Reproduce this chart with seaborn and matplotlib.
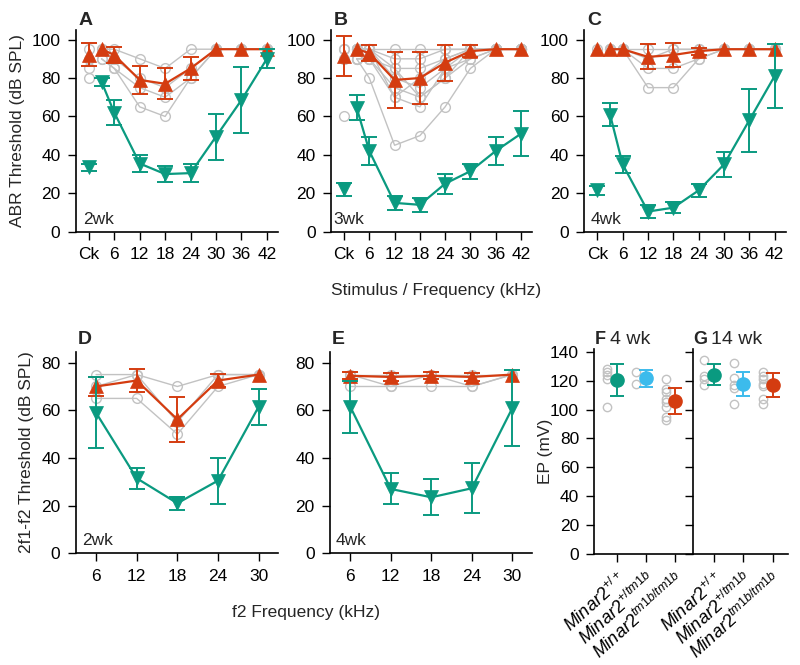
import numpy as np
import pandas as pd
import matplotlib
matplotlib.use('Agg')
import matplotlib.pyplot as plt
import seaborn as sns

sns.set_theme(style='ticks')
plt.rcParams['font.family'] = ['Liberation Sans', 'DejaVu Sans']
plt.rcParams['mathtext.fontset'] = 'custom'
plt.rcParams['mathtext.rm'] = 'Liberation Sans'
plt.rcParams['mathtext.it'] = 'Liberation Sans:italic'
plt.rcParams['mathtext.bf'] = 'Liberation Sans:bold'

TEAL = '#0a9a80'
RED = '#d43c10'
BLUE = '#3cbbec'
GRAY = '#c2c2c2'

# ---------------- ABR data (A-C) ----------------
abr_ticks = [0, 6, 12, 18, 24, 30, 36, 42]
abr_ticklabels = ['Ck', '6', '12', '18', '24', '30', '36', '42']
abr_freqs = [3, 6, 12, 18, 24, 30, 36, 42]

a_red_ck, a_red_ck_err = 92, 6
a_red = [95, 92, 79, 77, 85, 95, 95, 95]
a_red_err = [0, 4, 7.5, 8, 6, 0, 0, 0]
a_teal_ck, a_teal_ck_err = 33.5, 2
a_teal = [78, 62, 35.5, 30, 30.5, 49.5, 68.5, 90]
a_teal_err = [2, 6.5, 4.5, 4, 4.5, 12, 17, 5]
a_gray_ck = [95, 90, 85, 80]
a_gray = [[95, 95, 90, 85, 95, 95, 95, 95],
          [95, 90, 80, 75, 85, 95, 95, 95],
          [90, 85, 75, 70, 80, 95, 95, 95],
          [90, 85, 65, 60, 80, 95, 95, 95]]

b_red_ck, b_red_ck_err = 91.5, 10.3
b_red = [95, 93, 79, 80, 88, 94, 95, 95]
b_red_err = [0, 4.2, 14.5, 13.3, 9.3, 3, 0, 0]
b_teal_ck, b_teal_ck_err = 22, 3.3
b_teal = [64.5, 42, 15, 14, 25, 31.5, 42, 51]
b_teal_err = [6.5, 7.5, 3.5, 3.8, 5.2, 3.9, 7.1, 11.8]
b_gray_ck = [95, 95, 90, 90, 60]
b_gray = [[95, 95, 95, 95, 95, 95, 95, 95],
          [95, 95, 90, 90, 95, 95, 95, 95],
          [90, 90, 85, 85, 90, 95, 95, 95],
          [95, 95, 80, 75, 85, 90, 95, 95],
          [95, 90, 75, 70, 80, 95, 95, 95],
          [95, 95, 70, 65, 85, 95, 95, 95],
          [90, 80, 45, 50, 65, 85, 95, 95],
          [90, 90, 70, 80, 90, 95, 95, 95],
          [95, 95, 85, 70, 80, 90, 95, 95]]

c_red_ck, c_red_ck_err = 95, 0
c_red = [95, 95, 91, 92, 94, 95, 95, 95]
c_red_err = [0, 0, 6.5, 6.3, 1.8, 0, 0, 0]
c_teal_ck, c_teal_ck_err = 21.5, 2.2
c_teal = [61, 35, 10.5, 12.5, 21.5, 35, 58, 81]
c_teal_err = [6.2, 4.2, 3.3, 3, 3.3, 6.4, 16.3, 16.8]
c_gray_ck = [95]
c_gray = [[95, 95, 95, 95, 95, 95, 95, 95],
          [95, 95, 85, 85, 90, 95, 95, 95],
          [95, 95, 75, 75, 90, 95, 95, 95],
          [95, 95, 90, 95, 95, 95, 95, 95]]

# ---------------- DPOAE data (D-E) ----------------
dp_freqs = [6, 12, 18, 24, 30]
d_red = [70, 72.5, 56.2, 72.5, 75]
d_red_err = [4, 4.8, 9.3, 2.9, 0]
d_teal = [59, 31.5, 21, 30.5, 61.5]
d_teal_err = [15, 4.4, 2.8, 9.7, 7.6]
d_gray = [[75, 75, 70, 75, 75],
          [65, 65, 50, 70, 75],
          [70, 75, 55, 75, 75]]

e_red = [74.5, 74, 74.5, 74, 75]
e_red_err = [1.5, 1.7, 1.5, 1.8, 0]
e_teal = [61.5, 27, 23.5, 27.3, 61]
e_teal_err = [11, 6.5, 7.5, 10.5, 16]
e_gray = [[75, 75, 75, 75, 75],
          [70, 70, 70, 70, 75],
          [75, 70, 75, 70, 75]]

# ---------------- EP data (F-G) ----------------
ep_labels = [r'$\mathit{Minar2}^{\mathit{+/+}}$',
             r'$\mathit{Minar2}^{\mathit{+/tm1b}}$',
             r'$\mathit{Minar2}^{\mathit{tm1b/tm1b}}$']
ep_colors = [TEAL, BLUE, RED]
f_means = [120.5, 121.5, 105.7]
f_err = [11, 5.8, 9]
f_dots = [[128, 126, 124, 121, 102],
          [126, 118],
          [121, 114, 112, 107, 105, 102, 95, 93]]
g_means = [124.2, 117.7, 117]
g_err = [7.2, 8.5, 8]
g_dots = [[134, 123, 121, 117],
          [132, 122, 117, 115, 104],
          [126, 123, 121, 118, 116, 107, 104]]

W, H = 800, 665
fig = plt.figure(figsize=(8, 6.65), dpi=100)


def add_ax(left, right, top, bottom):
    return fig.add_axes([left / W, 1 - bottom / H, (right - left) / W, (bottom - top) / H])


TICK_FS = 12.5
LABEL_FS = 12.5


def style(ax):
    for s in ['top', 'right']:
        ax.spines[s].set_visible(False)
    for s in ['left', 'bottom']:
        ax.spines[s].set_linewidth(1.2)
        ax.spines[s].set_color('black')
    ax.tick_params(direction='out', length=6, width=1, labelsize=TICK_FS, colors='black', pad=5)
    ax.grid(False)


def errs(ax, x, y, e, color, z):
    x = np.asarray(x); y = np.asarray(y); e = np.asarray(e)
    m = e > 0
    if m.any():
        ax.errorbar(x[m], y[m], yerr=e[m], fmt='none', ecolor=color, elinewidth=1.4,
                    capsize=6, capthick=1.4, zorder=z)


def main_series(ax, x, y, e, color, marker, z):
    sns.lineplot(x=x, y=y, color=color, marker=marker, ms=10, mec=color, mew=0.5,
                 lw=1.6, ax=ax, zorder=z)
    errs(ax, x, y, e, color, z)


def gray_traces(ax, x, traces):
    for tr in traces:
        sns.lineplot(x=x, y=tr, color=GRAY, marker='o', ms=7, mfc='none', mec=GRAY,
                     mew=1.0, lw=1.0, ax=ax, zorder=1)


abr_panels = [
    ('A', '2wk', 75.7, 278.3, a_red_ck, a_red_ck_err, a_red, a_red_err, a_teal_ck, a_teal_ck_err,
     a_teal, a_teal_err, a_gray_ck, a_gray, 0.035),
    ('B', '3wk', 331, 532.3, b_red_ck, b_red_ck_err, b_red, b_red_err, b_teal_ck, b_teal_ck_err,
     b_teal, b_teal_err, b_gray_ck, b_gray, 0.014),
    ('C', '4wk', 584.3, 786, c_red_ck, c_red_ck_err, c_red, c_red_err, c_teal_ck, c_teal_ck_err,
     c_teal, c_teal_err, c_gray_ck, c_gray, 0.03),
]

for (letter, age, l, r, rck, rcke, rv, re, tck, tcke, tv, te, gck, gtr, tx) in abr_panels:
    ax = add_ax(l, r, 30, 231.7)
    style(ax)
    gray_traces(ax, abr_freqs, gtr)
    ax.plot([0] * len(gck), gck, 'o', ms=7, mfc='none', mec=GRAY, mew=1.0, ls='none', zorder=1)
    main_series(ax, abr_freqs, rv, re, RED, '^', 3)
    ax.plot([0], [rck], '^', ms=10, color=RED, mec=RED, mew=0.5, zorder=3)
    errs(ax, [0], [rck], [rcke], RED, 3)
    main_series(ax, abr_freqs, tv, te, TEAL, 'v', 4)
    ax.plot([0], [tck], 'v', ms=10, color=TEAL, mec=TEAL, mew=0.5, zorder=4)
    errs(ax, [0], [tck], [tcke], TEAL, 4)
    ax.set_xlim(-3.1, 44.7)
    ax.set_ylim(0, 105)
    ax.set_xticks(abr_ticks)
    ax.set_xticklabels(abr_ticklabels)
    ax.set_yticks([0, 20, 40, 60, 80, 100])
    ax.set_xlabel('')
    ax.set_ylabel('')
    ax.text(tx, 0.04, age, transform=ax.transAxes, fontsize=TICK_FS, va='baseline', ha='left')
    fig.text((l + 2.5) / W, 1 - 25 / H, letter, fontsize=14, fontweight='bold', va='baseline', ha='left')
    if letter == 'A':
        ax.set_ylabel('ABR Threshold (dB SPL)', fontsize=LABEL_FS)
        ax.yaxis.set_label_coords(-0.25, 0.5)

fig.text(436 / W, 1 - 290 / H, 'Stimulus / Frequency (kHz)', fontsize=LABEL_FS, ha='center', va='center')

dp_panels = [
    ('D', '2wk', 75.7, 278.3, d_red, d_red_err, d_teal, d_teal_err, d_gray),
    ('E', '4wk', 330, 532, e_red, e_red_err, e_teal, e_teal_err, e_gray),
]
for (letter, age, l, r, rv, re, tv, te, gtr) in dp_panels:
    ax = add_ax(l, r, 351.7, 553.3)
    style(ax)
    gray_traces(ax, dp_freqs, gtr)
    main_series(ax, dp_freqs, rv, re, RED, '^', 3)
    main_series(ax, dp_freqs, tv, te, TEAL, 'v', 4)
    ax.set_xlim(3, 32.9)
    ax.set_ylim(0, 84.6)
    ax.set_xticks(dp_freqs)
    ax.set_yticks([0, 20, 40, 60, 80])
    ax.set_xlabel('')
    ax.set_ylabel('')
    ax.text(0.03, 0.04, age, transform=ax.transAxes, fontsize=TICK_FS, va='baseline', ha='left')
    fig.text((l + 2) / W, 1 - 344 / H, letter, fontsize=14, fontweight='bold', va='baseline', ha='left')
    if letter == 'D':
        ax.set_ylabel('2f1-f2 Threshold (dB SPL)', fontsize=LABEL_FS)
        ax.yaxis.set_label_coords(-0.205, 0.5)

fig.text(306 / W, 1 - 613 / H, 'f2 Frequency (kHz)', fontsize=LABEL_FS, ha='center', va='center')

ep_panels = [
    ('F', '4 wk', 594.3, 692.7, (-0.76, 2.59), f_means, f_err, f_dots),
    ('G', '14 wk', 692.7, 788, (-0.73, 2.53), g_means, g_err, g_dots),
]
renderer = fig.canvas.get_renderer()
for (letter, age, l, r, xl, means, err, dots) in ep_panels:
    ax = add_ax(l, r, 349.3, 554)
    style(ax)
    for i, (m, e, d, c) in enumerate(zip(means, err, dots, ep_colors)):
        ax.plot([i - 0.33] * len(d), d, 'o', ms=6, mfc='none', mec=GRAY, mew=1.0, ls='none', zorder=1)
        ax.errorbar([i], [m], yerr=[e], fmt='o', ms=9.5, color=c, mec=c, ecolor=c,
                    elinewidth=1.4, capsize=5, capthick=1.4, zorder=3)
    ax.set_xlim(*xl)
    ax.set_ylim(0, 141.7)
    ax.set_yticks([0, 20, 40, 60, 80, 100, 120, 140])
    ax.set_xticks([0, 1, 2])
    ax.set_xticklabels(ep_labels, rotation=42, ha='right', rotation_mode='anchor', fontsize=13)
    lt = fig.text((l + 0.5) / W, 1 - 344 / H, letter, fontsize=13, fontweight='bold',
                  va='baseline', ha='left')
    bb = lt.get_window_extent(renderer=renderer)
    fig.text((bb.x1 + 4) / W, 1 - 344 / H, age, fontsize=14, va='baseline', ha='left')
    if letter == 'F':
        ax.set_ylabel('EP (mV)', fontsize=LABEL_FS)
        ax.yaxis.set_label_coords(-0.42, 0.5)
    else:
        ax.set_yticklabels([])

fig.savefig('out.png', dpi=100)
